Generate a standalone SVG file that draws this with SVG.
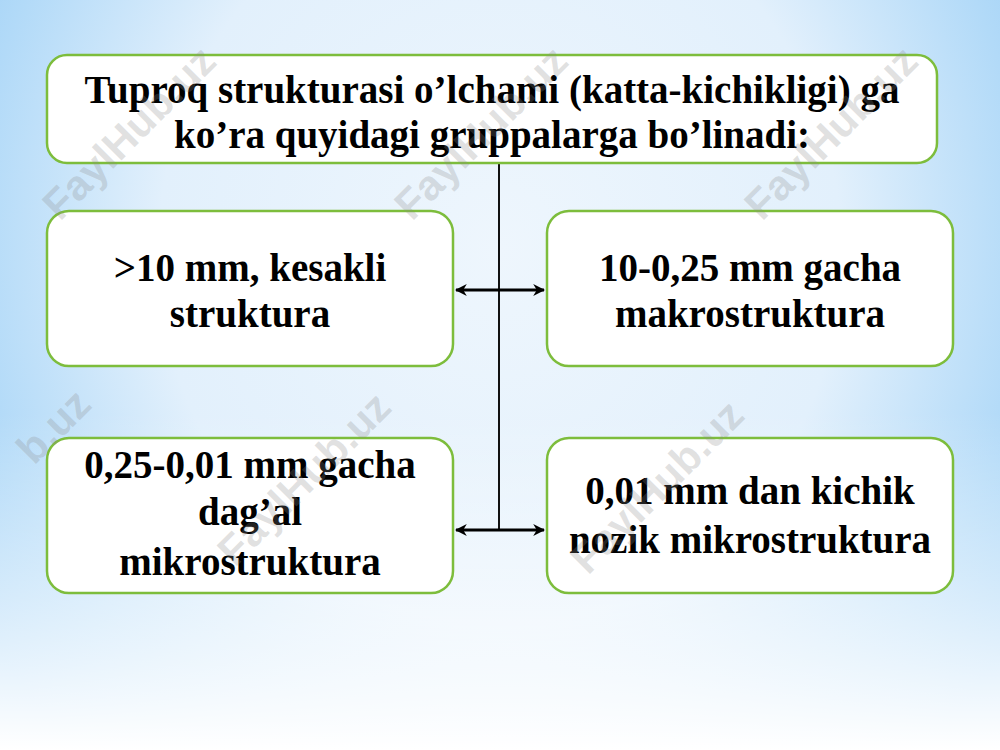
<svg xmlns="http://www.w3.org/2000/svg" width="1000" height="750" viewBox="0 0 1000 750">
<defs>
<radialGradient id="bg" cx="500" cy="250" r="620" gradientUnits="userSpaceOnUse" gradientTransform="translate(500 250) scale(1 1.1) translate(-500 -250)">
<stop offset="0" stop-color="#eef6fd"/>
<stop offset="0.55" stop-color="#e2f0fc"/>
<stop offset="0.85" stop-color="#b2daf8"/>
<stop offset="1" stop-color="#9ccff6"/>
</radialGradient>
<linearGradient id="fade" x1="0" y1="0" x2="0" y2="1">
<stop offset="0" stop-color="#ffffff" stop-opacity="0"/>
<stop offset="0.55" stop-color="#ffffff" stop-opacity="0"/>
<stop offset="1" stop-color="#ffffff" stop-opacity="1"/>
</linearGradient>
<marker id="ah" viewBox="0 0 10 10" refX="9" refY="5" markerWidth="4" markerHeight="4" orient="auto-start-reverse" markerUnits="strokeWidth">
<path d="M0,0 L10,5 L0,10 L3,5 z" fill="#000"/>
</marker>
<style>
.box{fill:#ffffff;stroke:#7dbd3c;stroke-width:2.5}
.t{font-family:"Liberation Serif","Times New Roman",serif;font-weight:bold;font-size:39px;fill:#000;text-anchor:middle}
.wm{font-family:"Liberation Sans",Arial,sans-serif;font-weight:bold;font-size:42px;fill:#8a8a8a;fill-opacity:0.26}
.arr{stroke:#000;stroke-width:3;fill:none}
</style>
</defs>
<rect width="1000" height="750" fill="url(#bg)"/>
<rect width="1000" height="750" fill="url(#fade)"/>
<g id="connectors">
<line x1="499" y1="163" x2="499" y2="530" stroke="#111" stroke-width="2"/>
<line class="arr" x1="456" y1="290" x2="544" y2="290" marker-start="url(#ah)" marker-end="url(#ah)"/>
<line class="arr" x1="456" y1="530" x2="544" y2="530" marker-start="url(#ah)" marker-end="url(#ah)"/>
</g>
<g id="top">
<rect class="box" x="47" y="55" width="890" height="108" rx="20"/>
<text class="t" x="492" y="103">Tuproq strukturasi o’lchami (katta-kichikligi) ga</text>
<text class="t" x="492" y="148">ko’ra quyidagi gruppalarga bo’linadi:</text>
</g>
<g id="n1">
<rect class="box" x="47" y="211" width="406" height="155" rx="22"/>
<text class="t" x="250" y="281">&gt;10 mm, kesakli</text>
<text class="t" x="250" y="327">struktura</text>
</g>
<g id="n2">
<rect class="box" x="547" y="211" width="406" height="155" rx="22"/>
<text class="t" x="750" y="281">10-0,25 mm gacha</text>
<text class="t" x="750" y="327">makrostruktura</text>
</g>
<g id="n3">
<rect class="box" x="47" y="438" width="406" height="155" rx="22"/>
<text class="t" x="250" y="478">0,25-0,01 mm gacha</text>
<text class="t" x="250" y="525">dag’al</text>
<text class="t" x="250" y="575">mikrostruktura</text>
</g>
<g id="n4">
<rect class="box" x="547" y="438" width="406" height="155" rx="22"/>
<text class="t" x="750" y="504">0,01 mm dan kichik</text>
<text class="t" x="750" y="553">nozik mikrostruktura</text>
</g>
<g id="watermarks">
<text class="wm" transform="translate(60 222) rotate(-45)">FaylHub.uz</text>
<text class="wm" transform="translate(412 222) rotate(-45)">FaylHub.uz</text>
<text class="wm" transform="translate(762 222) rotate(-45)">FaylHub.uz</text>
<text class="wm" transform="translate(34 466) rotate(-45)">b.uz</text>
<text class="wm" transform="translate(235 568) rotate(-45)">FaylHub.uz</text>
<text class="wm" transform="translate(588 576) rotate(-45)">FaylHub.uz</text>
</g>
</svg>
